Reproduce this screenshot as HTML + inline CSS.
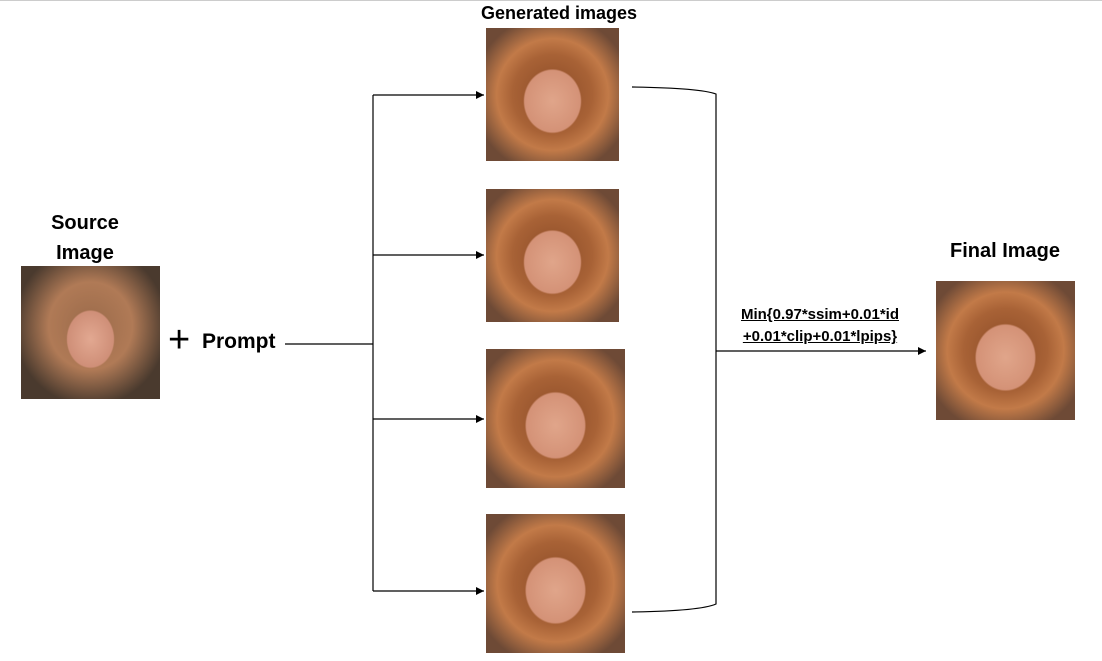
<!DOCTYPE html>
<html><head><meta charset="utf-8"><style>
body{margin:0;width:1102px;height:661px;background:#fff;position:relative;overflow:hidden;font-family:"Liberation Sans",Arial,sans-serif}
.t{position:absolute;font-weight:bold;color:#000;text-align:center}
.img{position:absolute;overflow:hidden}
.curly{background:radial-gradient(ellipse 38% 42% at 50% 55%,#e0a58a 0%,#d49277 55%,rgba(0,0,0,0) 58%),radial-gradient(ellipse 60% 60% at 50% 50%,#8a4a26 0%,#a86236 50%,#c27a48 70%,#6e4a36 100%)}
.src{background:radial-gradient(ellipse 30% 38% at 50% 55%,#e2a891 0%,#cf8f78 55%,rgba(0,0,0,0) 58%),radial-gradient(ellipse 55% 60% at 50% 45%,#9a6a4a 0%,#b07a56 55%,#4a3a2e 100%)}
</style></head><body>
<div style="position:absolute;left:0;top:0;width:1102px;height:1px;background:#ccc"></div>
<div class="t" style="left:30px;top:208px;width:110px;font-size:20px;line-height:30px">Source<br>Image</div>
<div class="img src" style="left:21px;top:266px;width:139px;height:133px"></div>
<div class="t" style="left:168px;top:318px;font-size:38px;font-weight:normal;line-height:44px">+</div>
<div class="t" style="left:202px;top:330px;font-size:21px">Prompt</div>
<div class="t" style="left:449px;top:3px;width:220px;font-size:18px">Generated images</div>
<div class="img curly" style="left:486px;top:28px;width:133px;height:133px"></div>
<div class="img curly" style="left:486px;top:189px;width:133px;height:133px"></div>
<div class="img curly" style="left:486px;top:349px;width:139px;height:139px"></div>
<div class="img curly" style="left:486px;top:514px;width:139px;height:139px"></div>
<div class="t" style="left:935px;top:240px;width:140px;font-size:20px">Final Image</div>
<div class="img curly" style="left:936px;top:281px;width:139px;height:139px"></div>
<div class="t" style="left:715px;top:304px;width:210px;font-size:15px;line-height:22px;text-decoration:underline">Min{0.97*ssim+0.01*id<br>+0.01*clip+0.01*lpips}</div>
<svg width="1102" height="661" style="position:absolute;left:0;top:0">
<defs><marker id="a" markerWidth="8" markerHeight="8" refX="8" refY="4" orient="auto" markerUnits="userSpaceOnUse"><path d="M0,0 L8,4 L0,8z" fill="#000"/></marker></defs>
<g stroke="#000" stroke-width="1.2" fill="none">
<line x1="285" y1="344" x2="373" y2="344"/>
<line x1="373" y1="95" x2="373" y2="591"/>
<line x1="373" y1="95" x2="484" y2="95" marker-end="url(#a)"/>
<line x1="373" y1="255" x2="484" y2="255" marker-end="url(#a)"/>
<line x1="373" y1="419" x2="484" y2="419" marker-end="url(#a)"/>
<line x1="373" y1="591" x2="484" y2="591" marker-end="url(#a)"/>
<path d="M632,87 Q700,88 716,94 L716,604 Q700,611 632,612"/>
<line x1="716" y1="351" x2="926" y2="351" marker-end="url(#a)"/>
</g></svg>
</body></html>
